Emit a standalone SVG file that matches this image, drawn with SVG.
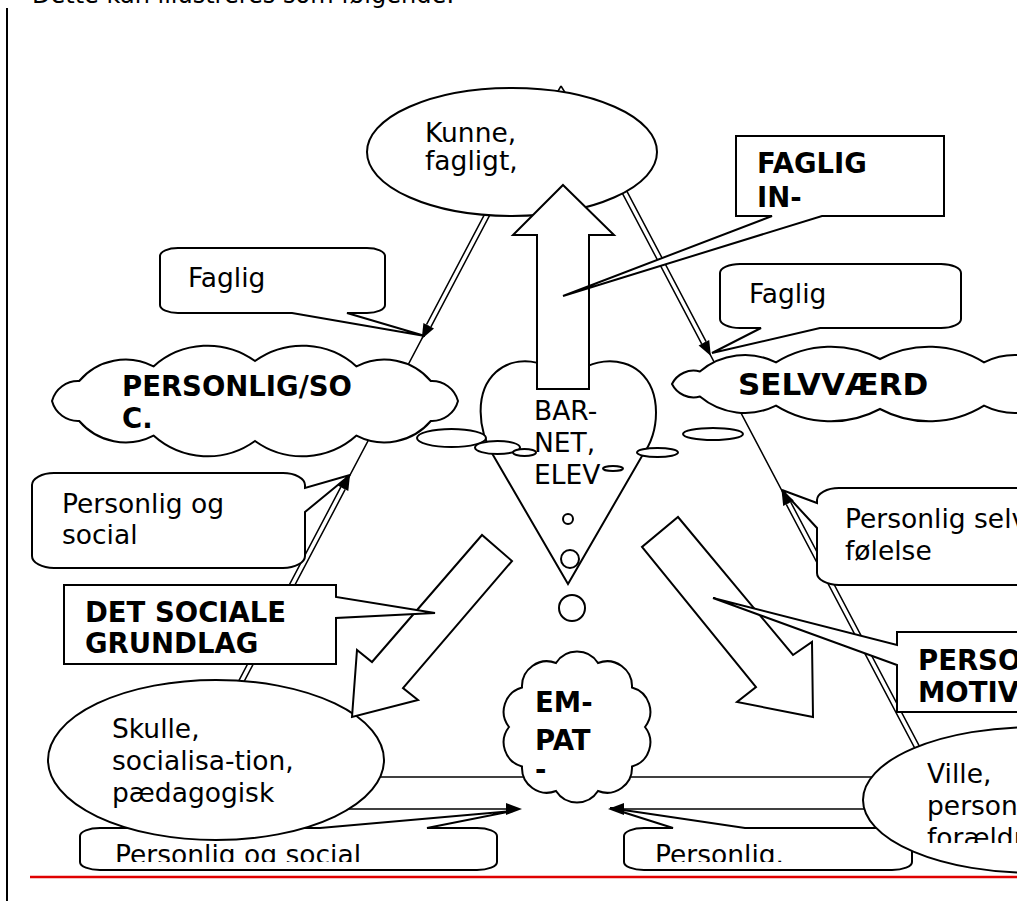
<svg xmlns="http://www.w3.org/2000/svg" width="1017" height="901" viewBox="0 0 1017 901">
<style>
.ln{fill:none;stroke:#000;stroke-width:1.5}
.dbo{fill:none;stroke:#000;stroke-width:6.5}
.dbi{fill:none;stroke:#fff;stroke-width:3.5}
.sh{fill:#fff;stroke:#000;stroke-width:2;stroke-linejoin:miter}
.hd{fill:#000;stroke:none}
.t{font-family:"DejaVu Sans",Verdana,sans-serif;font-size:26.5px;fill:#000}
.b{font-weight:bold;font-size:27.5px}
</style>
<defs>
<clipPath id="cb"><rect x="0" y="830" width="1017" height="32"/></clipPath>
<clipPath id="cv"><rect x="860" y="820" width="200" height="23"/></clipPath>
</defs>
<rect x="0" y="0" width="1017" height="901" fill="#fff"/>
<g id="page">
<line x1="7" y1="8" x2="7" y2="901" stroke="#000" stroke-width="2"/>
<line x1="30" y1="877" x2="1017" y2="877" stroke="#e00000" stroke-width="2.5"/>
<text class="t" x="32" y="3" style="font-size:24px">Dette kan illustreres som følgende:</text>
</g>
<g id="connectors">
<path class="ln" d="M561,86 L500.2,190 L190.9,777"/>
<path class="ln" d="M561,86 L612.9,170 L932.8,777"/>
<path class="dbo" d="M500.2,190 L428.7,325.7 M343,488.3 L190.9,777 M612.9,170 L703.9,342.7 M788.5,503.3 L932.8,777"/>
<path class="dbi" d="M500.2,190 L428.7,325.7 M343,488.3 L190.9,777 M612.9,170 L703.9,342.7 M788.5,503.3 L932.8,777"/>
<line class="ln" x1="190" y1="777" x2="933" y2="777"/>
<line class="ln" x1="330" y1="809" x2="508" y2="809"/>
<line class="ln" x1="622" y1="809" x2="900" y2="809"/>
</g>
<g id="callout-bottom-left">
<path class="sh" d="M100,828 H320 L513,811 L427,828 H477 A20,8 0 0 1 497,836 V862 A20,8 0 0 1 477,870 H100 A20,8 0 0 1 80,862 V836 A20,8 0 0 1 100,828 Z"/>
<text class="t" x="115" y="864" clip-path="url(#cb)">Personlig og social</text>
</g>
<g id="callout-bottom-right">
<path class="sh" d="M644,828 H673 L610,808 L745,828 H892 A20,8 0 0 1 912,836 V862 A20,8 0 0 1 892,870 H644 A20,8 0 0 1 624,862 V836 A20,8 0 0 1 644,828 Z"/>
<text class="t" x="655" y="864" clip-path="url(#cb)">Personlig.</text>
</g>
<g id="kunne">
<ellipse class="sh" cx="512" cy="152" rx="145" ry="64"/>
<text class="t" x="425" y="142">Kunne,</text>
<text class="t" x="425" y="170">fagligt,</text>
</g>
<g id="skulle">
<ellipse class="sh" cx="216" cy="760" rx="168" ry="80"/>
<text class="t" x="112" y="738">Skulle,</text>
<text class="t" x="112" y="770">socialisa-tion,</text>
<text class="t" x="112" y="802">pædagogisk</text>
</g>
<g id="ville">
<ellipse class="sh" cx="1035" cy="800" rx="172" ry="73"/>
<text class="t" x="927" y="783">Ville,</text>
<text class="t" x="927" y="815">person</text>
<text class="t" x="927" y="847" clip-path="url(#cv)">forældr</text>
</g>
<g id="cloud-personlig">
<path class="sh" d="M458,401 A27,27 0 0 1 430.8,421 A61,61 0 0 1 356.5,435.6 A81,81 0 0 1 255,441 A81,81 0 0 1 153.5,435.6 A61,61 0 0 1 79.2,421 A27,27 0 0 1 52,401 A27,27 0 0 1 79.2,381 A61,61 0 0 1 153.5,366.4 A81,81 0 0 1 255,361 A81,81 0 0 1 356.5,366.4 A61,61 0 0 1 430.8,381 A27,27 0 0 1 458,401 Z"/>
<text class="t b" x="122" y="396">PERSONLIG/SO</text>
<text class="t b" x="122" y="428">C.</text>
</g>
<g id="cloud-selvvaerd">
<path class="sh" d="M1088,384 A24,24 0 0 1 1060.1,396.5 A70,70 0 0 1 984,405.65 A104,104 0 0 1 880,409 A104,104 0 0 1 776,405.65 A70,70 0 0 1 699.9,396.5 A24,24 0 0 1 672,384 A24,24 0 0 1 699.9,371.5 A70,70 0 0 1 776,362.35 A104,104 0 0 1 880,359 A104,104 0 0 1 984,362.35 A70,70 0 0 1 1060.1,371.5 A24,24 0 0 1 1088,384 Z"/>
<text class="t b" x="738" y="395" style="font-size:31px">SELVVÆRD</text>
</g>
<g id="heart">
<path class="sh" d="M568,584 L493,455 C478,430 474,392 496,372 C514,356 548,356 566,385 C586,356 622,356 640,372 C662,392 660,432 642,456 Z"/>
<ellipse class="sh" cx="451.5" cy="438" rx="34.5" ry="9"/>
<ellipse class="sh" cx="497.5" cy="447.5" rx="22.5" ry="6.5"/>
<ellipse class="sh" cx="524.5" cy="452.5" rx="11.5" ry="3.5"/>
<ellipse class="sh" cx="657.5" cy="452.5" rx="20.5" ry="4.5"/>
<ellipse class="sh" cx="613" cy="468.5" rx="10" ry="2.5"/>
<ellipse class="sh" cx="713" cy="434" rx="30" ry="6"/>
<circle class="sh" cx="568" cy="519" r="5"/>
<circle class="sh" cx="570" cy="559" r="9"/>
<circle class="sh" cx="572" cy="608" r="13"/>
<text class="t" x="534" y="420">BAR-</text>
<text class="t" x="534" y="452">NET,</text>
<text class="t" x="534" y="484">ELEV</text>
</g>
<g id="arrow-up">
<path class="sh" d="M563,185 L614,235 L589,235 L589,389 L537,389 L537,235 L513,235 Z"/>
</g>
<g id="arrow-left">
<path class="sh" d="M352,717 L357,650 L372,662 L482,535 L512,561 L403,688 L418,700 Z"/>
</g>
<g id="arrow-right">
<path class="sh" d="M813,717 L812,642 L793,655 L678,517 L642,547 L756,687 L737,702 Z"/>
</g>
<g id="cloud-empati">
<path class="sh" d="M645,727 A25,25 0 0 1 632,766.5 A25,25 0 0 1 598,791 A25,25 0 0 1 556,791 A25,25 0 0 1 522,766.5 A25,25 0 0 1 509,727 A25,25 0 0 1 522,687.5 A25,25 0 0 1 556,663 A25,25 0 0 1 598,663 A25,25 0 0 1 632,687.5 A25,25 0 0 1 645,727 Z"/>
<text class="t b" x="535" y="712">EM-</text>
<text class="t b" x="535" y="750">PAT</text>
<text class="t b" x="535" y="779">-</text>
</g>
<g id="callout-faglig-left">
<path class="sh" d="M178,248 H367 A18,8 0 0 1 385,256 V305 A18,8 0 0 1 367,313 H347 L425,336 L292,313 H178 A18,8 0 0 1 160,305 V256 A18,8 0 0 1 178,248 Z"/>
<text class="t" x="188" y="287">Faglig</text>
</g>
<g id="callout-faglig-right">
<path class="sh" d="M740,264 H941 A20,9 0 0 1 961,273 V319 A20,9 0 0 1 941,328 H820 L712,353 L761,328 H740 A20,9 0 0 1 720,319 V273 A20,9 0 0 1 740,264 Z"/>
<text class="t" x="749" y="303">Faglig</text>
</g>
<g id="callout-faglig-in">
<path class="sh" d="M736,136 H944 V216 H822 L563,296 L772,216 H736 Z"/>
<text class="t b" x="757" y="173">FAGLIG</text>
<text class="t b" x="757" y="207">IN-</text>
</g>
<g id="callout-personlig-social">
<path class="sh" d="M54,473 H283 A22,12 0 0 1 305,485 V488 L350,475 L305,512 V556 A22,12 0 0 1 283,568 H54 A22,12 0 0 1 32,556 V485 A22,12 0 0 1 54,473 Z"/>
<text class="t" x="62" y="513">Personlig og</text>
<text class="t" x="62" y="544">social</text>
</g>
<g id="callout-personlig-selv">
<path class="sh" d="M839,488 H1040 V585 H839 A22,12 0 0 1 817,573 V528 L782,490 L817,503 V500 A22,12 0 0 1 839,488 Z"/>
<text class="t" x="845" y="528">Personlig selv</text>
<text class="t" x="845" y="560">følelse</text>
</g>
<g id="callout-det-sociale">
<path class="sh" d="M64,585 H336 V597 L435,613 L336,618 V664 H64 Z"/>
<text class="t b" x="85" y="622">DET SOCIALE</text>
<text class="t b" x="85" y="653">GRUNDLAG</text>
</g>
<g id="callout-perso-motiv">
<path class="sh" d="M897,632 H1030 V712 H897 V665 L713,598 L897,645 Z"/>
<text class="t b" x="918" y="670">PERSO</text>
<text class="t b" x="918" y="702">MOTIV</text>
</g>
<g id="arrowheads">
<path class="hd" d="M421.7,339 L434,328.5 L423.4,322.9 Z"/>
<path class="hd" d="M350,475 L348.3,491.1 L337.7,485.5 Z"/>
<path class="hd" d="M710.9,356 L709.2,339.9 L698.6,345.5 Z"/>
<path class="hd" d="M781.5,490 L793.8,500.5 L783.2,506.1 Z"/>
<path class="hd" d="M522,809 L506,803 L506,815 Z"/>
<path class="hd" d="M608,809 L624,803 L624,815 Z"/>
</g>
</svg>
